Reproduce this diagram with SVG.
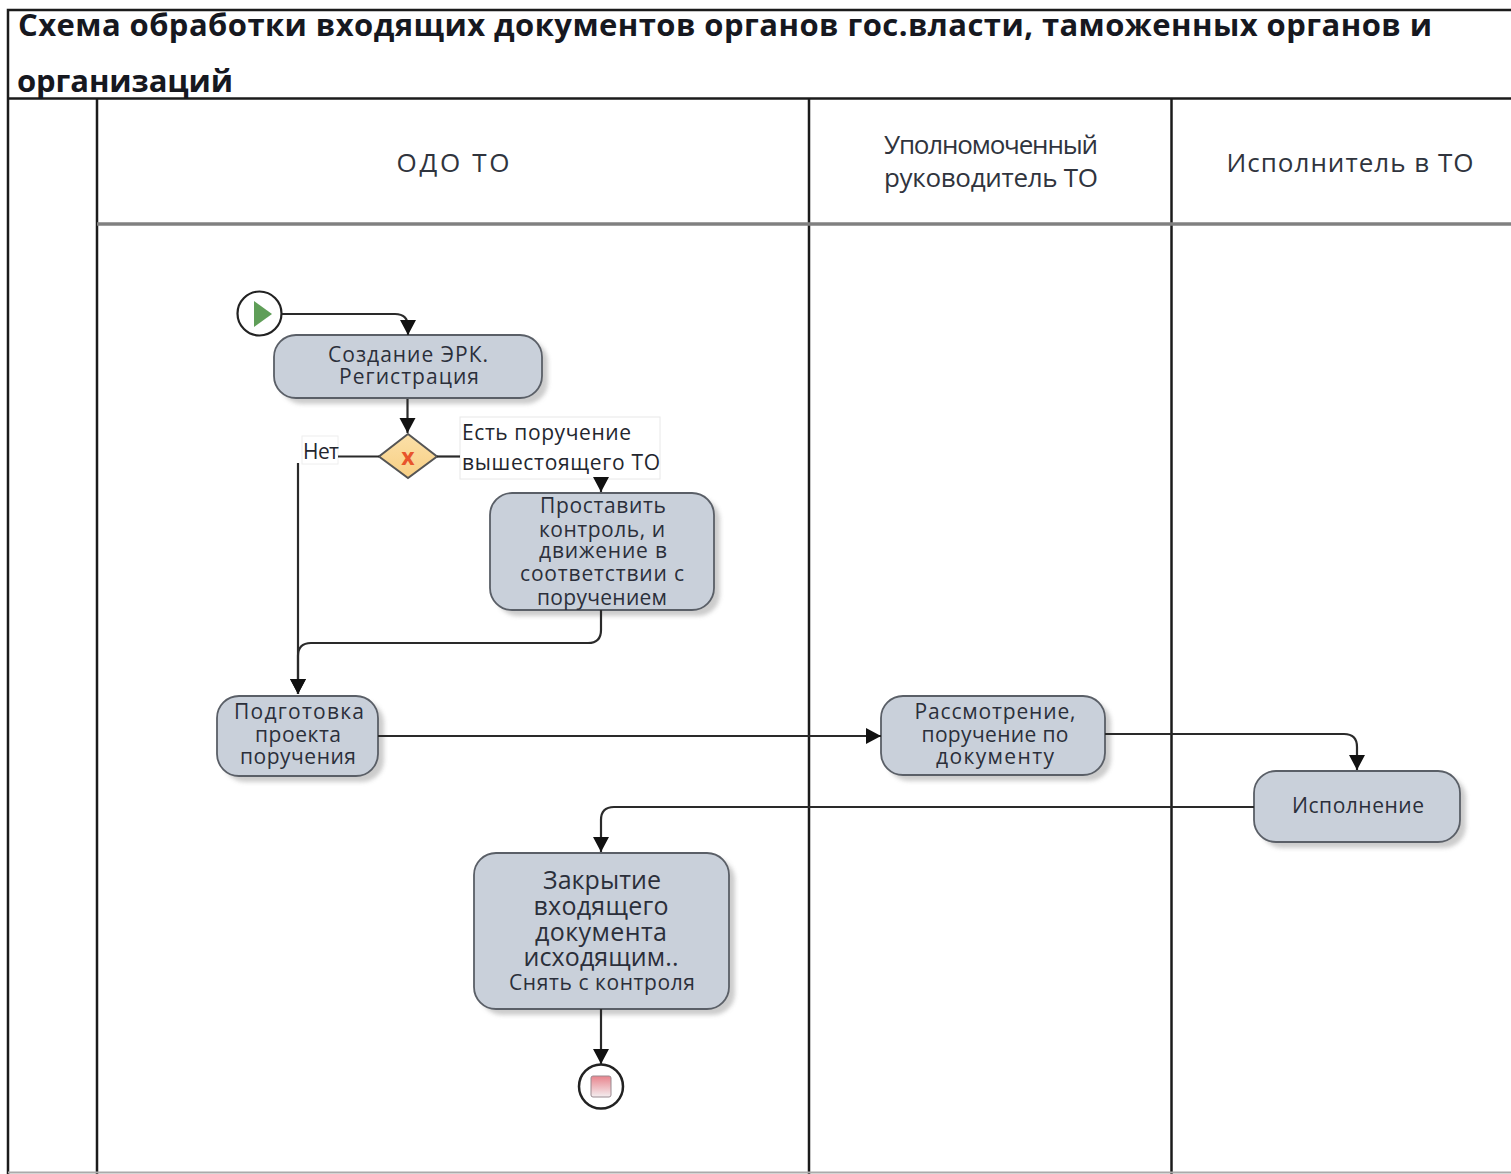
<svg xmlns="http://www.w3.org/2000/svg" width="1511" height="1174" viewBox="0 0 1511 1174">
<style>
text{font-family:"Open Sans","Noto Sans","DejaVu Sans",sans-serif;fill:#2b2f3a;text-anchor:middle}
.title{font-size:31px;font-weight:700;fill:#16181f;text-anchor:start}
.hd{font-size:26px;fill:#30343d}
.t{font-size:21px}
.big{font-size:25px}
.lab{font-size:21px;text-anchor:start;fill:#23262e}
.task{fill:#c9d0da;stroke:#5a5f67;stroke-width:1.800}
.sh{fill:#aaa;opacity:.6;filter:url(#blur)}
.lane{stroke:#1b1b1b;stroke-width:2.500;fill:none}
.c{fill:none;stroke:#2a2a2a;stroke-width:2.200}
</style>
<defs>
<filter id="blur" x="-10%" y="-10%" width="120%" height="120%"><feGaussianBlur stdDeviation="2"/></filter>
<marker id="a" markerUnits="userSpaceOnUse" markerWidth="17" markerHeight="17" refX="15" refY="8" orient="auto"><path d="M0 0L15 8L0 16Z" fill="#111"/></marker>
<linearGradient id="stop" x1="0" y1="0" x2="0" y2="1"><stop offset="0" stop-color="#e8838c"/><stop offset="1" stop-color="#f4eef0"/></linearGradient>
<linearGradient id="gw" x1="0" y1="0" x2="0" y2="1"><stop offset="0" stop-color="#fbe0a8"/><stop offset="1" stop-color="#f8cf84"/></linearGradient>
</defs>
<rect width="1511" height="1174" fill="#fff"/>
<g id="pool">
<path class="lane" d="M1511 10H8V1174"/>
<path class="lane" d="M8 98.500H1511"/>
<path class="lane" d="M97 98.500V1174"/>
<path class="lane" d="M809 98.500V1174"/>
<path class="lane" d="M1171.500 98.500V1174"/>
<path d="M97 224H1511" stroke="#808080" stroke-width="3.500" fill="none"/>
<path d="M8 1172.500H1511" stroke="#aaa" stroke-width="2" fill="none"/>
<text class="title" x="18" y="36" textLength="1414" lengthAdjust="spacing">Схема обработки входящих документов органов гос.власти, таможенных органов и</text>
<text class="title" x="17" y="92" textLength="216" lengthAdjust="spacing">организаций</text>
<text class="hd" x="453" y="172" textLength="113" lengthAdjust="spacing">ОДО ТО</text>
<text class="hd" x="991" y="154" textLength="214" lengthAdjust="spacing">Уполномоченный</text>
<text class="hd" x="991" y="187" textLength="214" lengthAdjust="spacing">руководитель ТО</text>
<text class="hd" x="1350" y="172" textLength="247" lengthAdjust="spacing">Исполнитель в ТО</text>
</g>
<g id="start"><circle cx="259.500" cy="313.500" r="22" fill="#fff" stroke="#222" stroke-width="2.200"/><path d="M254 301L272 314L254 327Z" fill="#5f9e58"/></g>
<g id="task-create">
<rect class="sh" x="280" y="340" width="268" height="64" rx="22"/>
<rect class="task" x="274" y="335" width="268" height="63" rx="22"/>
<text class="t" x="408" y="362" textLength="160" lengthAdjust="spacing">Создание ЭРК.</text>
<text class="t" x="409" y="384" textLength="140" lengthAdjust="spacing">Регистрация</text>
</g>
<g id="gateway">
<path d="M408 434L437 456.500L408 478L379 456.500Z" fill="url(#gw)" stroke="#555" stroke-width="2"/>
<text x="408" y="465" style="font-size:23px;font-weight:700;fill:#e8542c">x</text>
</g>
<g id="label-no">
<rect x="302" y="436" width="36" height="28" fill="#fff" stroke="#eee"/>
<text class="lab" x="303" y="459" textLength="36" lengthAdjust="spacing">Нет</text>
</g>
<g id="label-yes">
<rect x="460" y="417" width="200" height="62" fill="#fff" stroke="#e8e8e8"/>
<text class="lab" x="462" y="440" textLength="169" lengthAdjust="spacing">Есть поручение</text>
<text class="lab" x="462" y="470" textLength="198" lengthAdjust="spacing">вышестоящего ТО</text>
</g>
<g id="task-control">
<rect class="sh" x="496" y="498" width="224" height="118" rx="22"/>
<rect class="task" x="490" y="493" width="224" height="117" rx="22"/>
<text class="t" x="603" y="513" textLength="126" lengthAdjust="spacing">Проставить</text>
<text class="t" x="602" y="537" textLength="126" lengthAdjust="spacing">контроль, и</text>
<text class="t" x="603" y="558" textLength="128" lengthAdjust="spacing">движение в</text>
<text class="t" x="602" y="581" textLength="164" lengthAdjust="spacing">соответствии с</text>
<text class="t" x="602" y="605" textLength="130" lengthAdjust="spacing">поручением</text>
</g>
<g id="task-prepare">
<rect class="sh" x="223" y="701" width="161" height="81" rx="22"/>
<rect class="task" x="217" y="696" width="161" height="80" rx="22"/>
<text class="t" x="299" y="719" textLength="130" lengthAdjust="spacing">Подготовка</text>
<text class="t" x="298" y="742" textLength="86" lengthAdjust="spacing">проекта</text>
<text class="t" x="298" y="764" textLength="116" lengthAdjust="spacing">поручения</text>
</g>
<g id="task-review">
<rect class="sh" x="887" y="701" width="224" height="80" rx="22"/>
<rect class="task" x="881" y="696" width="224" height="79" rx="22"/>
<text class="t" x="995" y="719" textLength="161" lengthAdjust="spacing">Рассмотрение,</text>
<text class="t" x="995" y="742" textLength="147" lengthAdjust="spacing">поручение по</text>
<text class="t" x="995" y="764" textLength="118" lengthAdjust="spacing">документу</text>
</g>
<g id="task-exec">
<rect class="sh" x="1260" y="776" width="206" height="72" rx="22"/>
<rect class="task" x="1254" y="771" width="206" height="71" rx="22"/>
<text class="t" x="1358" y="813" textLength="132" lengthAdjust="spacing">Исполнение</text>
</g>
<g id="task-close">
<rect class="sh" x="480" y="858" width="255" height="157" rx="22"/>
<rect class="task" x="474" y="853" width="255" height="156" rx="22"/>
<text class="big" x="602" y="889" textLength="118" lengthAdjust="spacing">Закрытие</text>
<text class="big" x="601" y="915" textLength="135" lengthAdjust="spacing">входящего</text>
<text class="big" x="601" y="941" textLength="132" lengthAdjust="spacing">документа</text>
<text class="big" x="601" y="966" textLength="155" lengthAdjust="spacing">исходящим..</text>
<text class="t" x="602" y="990" textLength="186" lengthAdjust="spacing">Снять с контроля</text>
</g>
<g id="end"><circle cx="601" cy="1086.500" r="22" fill="#fff" stroke="#222" stroke-width="2.500"/><rect x="591" y="1076" width="20" height="21" rx="2" fill="url(#stop)" stroke="#9a8a90" stroke-width="1"/></g>
<g id="connectors">
<path class="c" d="M282 314H395Q408 314 408 327V335" marker-end="url(#a)"/>
<path class="c" d="M407.500 399V433" marker-end="url(#a)"/>
<path class="c" d="M379 456.500H338"/>
<path class="c" d="M437 456.500H460"/>
<path class="c" d="M298 463V694" marker-end="url(#a)"/>
<path class="c" d="M601 479V492" marker-end="url(#a)"/>
<path class="c" d="M601 610V630Q601 643 588 643H311Q298 643 298 656V694" marker-end="url(#a)"/>
<path class="c" d="M378 736H881" marker-end="url(#a)"/>
<path class="c" d="M1105 734H1344Q1357 734 1357 747V770" marker-end="url(#a)"/>
<path class="c" d="M1254 807H614Q601 807 601 820V852" marker-end="url(#a)"/>
<path class="c" d="M601 1009V1064" marker-end="url(#a)"/>
</g>
</svg>
